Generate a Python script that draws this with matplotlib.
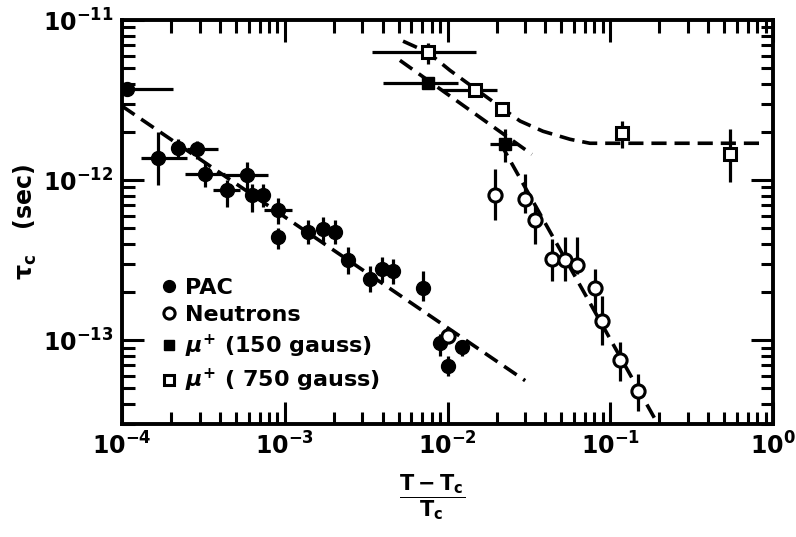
import matplotlib
matplotlib.use("Agg")
import matplotlib.pyplot as plt
import numpy as np

# PAC points (filled circles) and their error-bar ends
pac_x = [1.08e-4, 1.66e-4, 2.21e-4, 2.89e-4, 3.24e-4, 5.86e-4, 4.42e-4, 6.3e-4, 7.4e-4, 9.1e-4, 9.1e-4,
         1.39e-3, 1.72e-3, 2.04e-3, 2.45e-3, 3.34e-3, 3.98e-3, 4.63e-3, 7.08e-3, 9.0e-3, 1.0e-2, 1.23e-2]
pac_y = [3.7e-12, 1.37e-12, 1.58e-12, 1.56e-12, 1.10e-12, 1.08e-12, 8.7e-13, 8.1e-13, 8.1e-13, 6.5e-13, 4.4e-13,
         4.73e-13, 4.94e-13, 4.73e-13, 3.15e-13, 2.4e-13, 2.77e-13, 2.7e-13, 2.13e-13, 9.6e-14, 6.95e-14, 9.1e-14]
pac_xlo = [7e-5, 1.3e-4, 2.21e-4, 2.5e-4, 2.45e-4, 4.3e-4, 3.6e-4, 6.3e-4, 7.4e-4, 7.5e-4, 9.1e-4,
           1.39e-3, 1.72e-3, 2.04e-3, 2.45e-3, 3.34e-3, 3.98e-3, 4.63e-3, 7.08e-3, 9.0e-3, 1.0e-2, 1.23e-2]
pac_xhi = [2.06e-4, 2.5e-4, 2.21e-4, 3.9e-4, 4.3e-4, 7.9e-4, 5.3e-4, 6.3e-4, 7.4e-4, 1.1e-3, 9.1e-4,
           1.39e-3, 1.72e-3, 2.04e-3, 2.45e-3, 3.34e-3, 3.98e-3, 4.63e-3, 7.08e-3, 9.0e-3, 1.0e-2, 1.23e-2]
pac_ylo = [3.7e-12, 9.3e-13, 1.35e-12, 1.35e-12, 9.0e-13, 8.5e-13, 6.8e-13, 6.3e-13, 6.8e-13, 5.3e-13, 3.7e-13,
           4.0e-13, 4.1e-13, 4.0e-13, 2.6e-13, 2.0e-13, 2.3e-13, 2.25e-13, 1.75e-13, 8.0e-14, 6.0e-14, 8.0e-14]
pac_yhi = [3.7e-12, 2.0e-12, 1.8e-12, 1.75e-12, 1.3e-12, 1.3e-12, 1.0e-12, 9.5e-13, 9.5e-13, 7.7e-13, 5.0e-13,
           5.6e-13, 5.9e-13, 5.6e-13, 3.8e-13, 2.9e-13, 3.3e-13, 3.2e-13, 2.7e-13, 1.1e-13, 8.0e-14, 1.0e-13]

# Neutron points (open circles)
neu_x = [1.0e-2, 1.96e-2, 2.99e-2, 3.45e-2, 4.39e-2, 5.27e-2, 6.25e-2, 8.06e-2, 8.9e-2, 0.115, 0.148]
neu_y = [1.07e-13, 8.1e-13, 7.6e-13, 5.6e-13, 3.2e-13, 3.15e-13, 2.97e-13, 2.13e-13, 1.32e-13, 7.5e-14, 4.8e-14]
neu_ylo = [1.0e-13, 5.6e-13, 6.2e-13, 4.0e-13, 2.35e-13, 2.35e-13, 2.6e-13, 1.5e-13, 9.3e-14, 5.6e-14, 3.6e-14]
neu_yhi = [1.2e-13, 1.17e-12, 1.1e-12, 7.0e-13, 4.3e-13, 4.4e-13, 4.4e-13, 2.8e-13, 1.9e-13, 9.8e-14, 6.2e-14]

# muon spin rotation, 150 gauss (filled squares)
m150_x = [7.6e-3, 2.25e-2]
m150_y = [4.06e-12, 1.67e-12]
m150_xlo = [4.0e-3, 1.83e-2]
m150_xhi = [1.16e-2, 2.67e-2]
m150_ylo = [4.06e-12, 1.3e-12]
m150_yhi = [4.06e-12, 2.1e-12]

# muon spin rotation, 750 gauss (open squares)
m750_x = [7.58e-3, 1.48e-2, 2.16e-2, 0.118, 0.545]
m750_y = [6.28e-12, 3.65e-12, 2.79e-12, 1.96e-12, 1.45e-12]
m750_xlo = [3.43e-3, 9.2e-3, 2.16e-2, 0.118, 0.545]
m750_xhi = [1.49e-2, 2.0e-2, 2.16e-2, 0.118, 0.545]
m750_ylo = [5.3e-12, 3.65e-12, 2.79e-12, 1.58e-12, 9.8e-13]
m750_yhi = [7.2e-12, 3.65e-12, 2.79e-12, 2.34e-12, 2.09e-12]

# dashed guide lines
pac_fit_x = [1.0e-4, 3.0e-2]
pac_fit_y = [2.9e-12, 5.6e-14]
m150_fit_x = [5.1e-3, 3.3e-2]
m150_fit_y = [5.6e-12, 1.45e-12]
neu_fit_x = [2.1e-2, 0.196]
neu_fit_y = [1.72e-12, 3.0e-14]
m750_fit_x = [5.33e-3, 7.58e-3, 1.035e-2, 1.475e-2, 2.19e-2, 2.79e-2, 3.86e-2, 5.66e-2, 7.5e-2, 0.83]
m750_fit_y = [7.38e-12, 6.28e-12, 4.85e-12, 3.73e-12, 2.79e-12, 2.34e-12, 2.02e-12, 1.80e-12, 1.70e-12, 1.70e-12]

xticks = [1e-4, 1e-3, 1e-2, 1e-1, 1e0]
xtick_labels = [r'$\mathbf{10^{-4}}$', r'$\mathbf{10^{-3}}$', r'$\mathbf{10^{-2}}$',
                r'$\mathbf{10^{-1}}$', r'$\mathbf{10^{0}}$']
yticks = [1e-13, 1e-12, 1e-11]
ytick_labels = [r'$\mathbf{10^{-13}}$', r'$\mathbf{10^{-12}}$', r'$\mathbf{10^{-11}}$']

plt.rcParams['font.family'] = ['DejaVu Sans']
plt.rcParams['font.weight'] = 'bold'
plt.rcParams['axes.labelweight'] = 'bold'
plt.rcParams['mathtext.fontset'] = 'custom'
plt.rcParams['mathtext.rm'] = 'DejaVu Sans Condensed'
plt.rcParams['mathtext.bf'] = 'DejaVu Sans Condensed:bold'
plt.rcParams['mathtext.it'] = 'DejaVu Sans:bold:italic'

fig = plt.figure(figsize=(7.96, 5.37), dpi=100)
ax = fig.add_axes([0.1533, 0.2104, 0.8178, 0.7523])
ax.set_xscale('log')
ax.set_yscale('log')
ax.set_xlim(1e-4, 1)
ax.set_ylim(3e-14, 1e-11)


def bars(x, y, xlo, xhi, ylo, yhi):
    x, y = np.array(x), np.array(y)
    ax.errorbar(x, y, xerr=[x - np.array(xlo), np.array(xhi) - x],
                yerr=[y - np.array(ylo), np.array(yhi) - y],
                fmt='none', ecolor='black', elinewidth=2.3, capsize=0, zorder=2)


bars(pac_x, pac_y, pac_xlo, pac_xhi, pac_ylo, pac_yhi)
bars(neu_x, neu_y, neu_x, neu_x, neu_ylo, neu_yhi)
bars(m150_x, m150_y, m150_xlo, m150_xhi, m150_ylo, m150_yhi)
bars(m750_x, m750_y, m750_xlo, m750_xhi, m750_ylo, m750_yhi)

dash = dict(color='black', lw=2.6, dashes=(4.2, 2.2), zorder=1)
ax.plot(pac_fit_x, pac_fit_y, **dash)
ax.plot(m150_fit_x, m150_fit_y, **dash)
ax.plot(neu_fit_x, neu_fit_y, **dash)
ax.plot(m750_fit_x, m750_fit_y, **dash)

ax.plot(pac_x, pac_y, 'o', ms=10, color='black', label='PAC', zorder=3)
ax.plot(neu_x, neu_y, 'o', ms=9.5, mfc='white', mec='black', mew=2.2, label='Neutrons', zorder=3)
ax.plot(m150_x, m150_y, 's', ms=9, color='black', label=r'$\mu^{+}$ (150 gauss)', zorder=3)
ax.plot(m750_x, m750_y, 's', ms=9, mfc='white', mec='black', mew=2.2, label=r'$\mu^{+}$ ( 750 gauss)', zorder=3)

leg = ax.legend(loc='upper left', bbox_to_anchor=(0.058, 0.362), frameon=False, fontsize=16,
                handlelength=0.8, handletextpad=0.35, labelspacing=0.33, borderpad=0, borderaxespad=0,
                markerscale=0.85)

ax.set_xticks(xticks)
ax.set_xticklabels(xtick_labels)
ax.set_yticks(yticks)
ax.set_yticklabels(ytick_labels)
ax.tick_params(which='both', direction='in', top=True, right=True, width=2.2, color='black')
ax.tick_params(which='major', length=16, labelsize=17, pad=6)
ax.tick_params(which='minor', length=9)
for s in ax.spines.values():
    s.set_linewidth(2.8)

ax.set_ylabel(r'$\mathbf{\tau_c}$   (sec)', fontsize=17, fontweight='bold', va='center')
ax.yaxis.set_label_coords(-0.148, 0.5)
ax.set_xlabel(r'$\mathbf{\dfrac{T-T_c}{T_c}}$', fontsize=15, va='center')
ax.xaxis.set_label_coords(0.476, -0.18)

fig.savefig('out.png', dpi=100, facecolor='white')
